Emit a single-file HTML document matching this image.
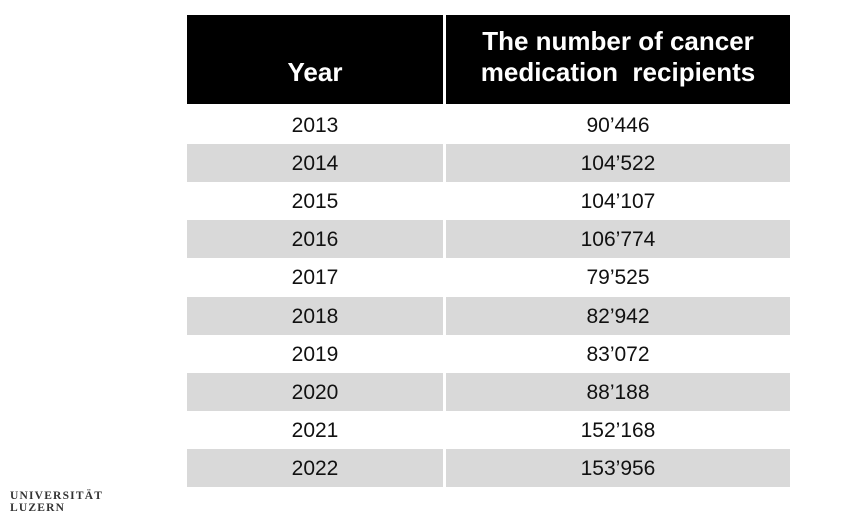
<!DOCTYPE html>
<html><head><meta charset="utf-8"><style>
body{margin:0;width:856px;height:517px;background:#fff;position:relative;overflow:hidden;font-family:"Liberation Sans",sans-serif}
.h{position:absolute;top:15px;height:89px;background:#000;color:#fff;font-weight:bold;font-size:26px;line-height:31px}
.row{position:absolute;left:187px;width:603px;height:38px}
.c{position:absolute;top:0;height:38px;line-height:40px;text-align:center;font-size:21px;color:#111}
.logo{position:absolute;left:10px;font-family:"Liberation Serif",serif;font-weight:bold;font-size:11.5px;letter-spacing:1.2px;color:#333}
</style></head><body>
<div class="h" style="left:187px;width:256px"><div style="position:absolute;left:0;right:0;top:42px;text-align:center">Year</div></div>
<div class="h" style="left:446px;width:344px"><div style="position:absolute;left:0;right:0;top:11px;text-align:center">The number of cancer<br>medication&nbsp; recipients</div></div>
<div id="tbl"></div>
<div class="logo" style="top:490px">UNIVERSITÄT</div>
<div class="logo" style="top:502px">LUZERN</div>
<script>
const years=["2013","2014","2015","2016","2017","2018","2019","2020","2021","2022"];
const values=["90’446","104’522","104’107","106’774","79’525","82’942","83’072","88’188","152’168","153’956"];
const tbl=document.getElementById('tbl');
years.forEach((y,i)=>{
  const r=document.createElement('div');
  r.className='row';
  
  
  r.style.top=(106+i*38.1)+'px';
  const g=i%2===1?'#d9d9d9':'#fff';
  const a=document.createElement('div');
  a.className='c';
  
  
  a.style.left='0px';a.style.width='256px';a.style.background=g;
  a.textContent=y;
  const b=document.createElement('div');
  b.className='c';
  
  
  b.style.left='259px';b.style.width='344px';b.style.background=g;
  b.textContent=values[i];
  r.appendChild(a);r.appendChild(b);tbl.appendChild(r);
});
</script>
</body></html>
